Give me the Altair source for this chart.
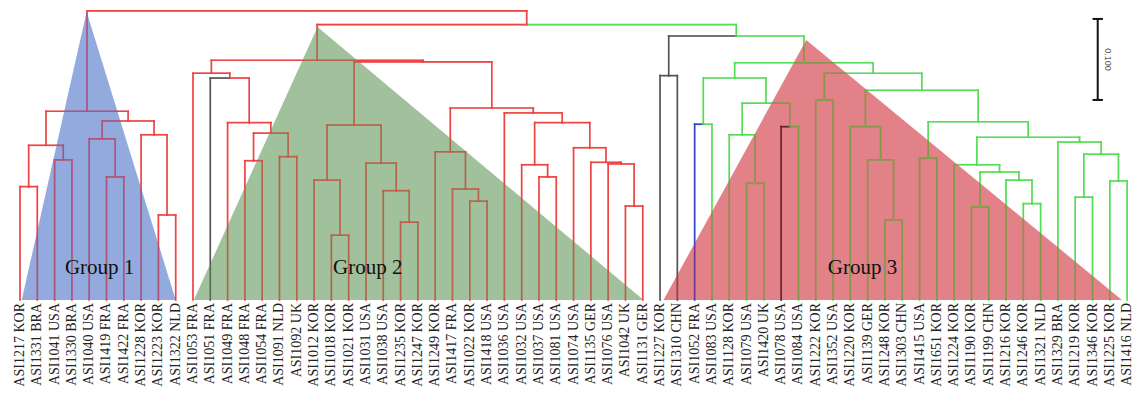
import altair as alt
import pandas as pd

# ---------------- data ----------------
leaf_labels = [
    "ASI1217 KOR", "ASI1331 BRA", "ASI1041 USA", "ASI1330 BRA", "ASI1040 USA",
    "ASI1419 FRA", "ASI1422 FRA", "ASI1228 KOR", "ASI1223 KOR", "ASI1322 NLD",
    "ASI1053 FRA", "ASI1051 FRA", "ASI1049 FRA", "ASI1048 FRA", "ASI1054 FRA",
    "ASI1091 NLD", "ASI1092 UK", "ASI1012 KOR", "ASI1018 KOR", "ASI1021 KOR",
    "ASI1031 USA", "ASI1038 USA", "ASI1235 KOR", "ASI1247 KOR", "ASI1249 KOR",
    "ASI1417 FRA", "ASI1022 KOR", "ASI1418 USA", "ASI1036 USA", "ASI1032 USA",
    "ASI1037 USA", "ASI1081 USA", "ASI1074 USA", "ASI1135 GER", "ASI1076 USA",
    "ASI1042 UK", "ASI1131 GER",
    "ASI1227 KOR", "ASI1310 CHN", "ASI1052 FRA", "ASI1083 USA", "ASI1128 KOR",
    "ASI1079 USA", "ASI1420 UK", "ASI1078 USA", "ASI1084 USA", "ASI1222 KOR",
    "ASI1352 USA", "ASI1220 KOR", "ASI1139 GER", "ASI1248 KOR", "ASI1303 CHN",
    "ASI1415 USA", "ASI1651 KOR", "ASI1224 KOR", "ASI1190 KOR", "ASI1199 CHN",
    "ASI1216 KOR", "ASI1246 KOR", "ASI1321 NLD", "ASI1329 BRA", "ASI1219 KOR",
    "ASI1346 KOR", "ASI1225 KOR", "ASI1416 NLD",
]

# merges: (node, left child, right child, merge height); ints are leaf indices
merges = [
    # group 1
    ("A", 0, 1, 0.140), ("B", 2, 3, 0.173), ("AB", "A", "B", 0.191),
    ("C", 5, 6, 0.152), ("D", 4, "C", 0.199), ("E", 8, 9, 0.105),
    ("F", 7, "E", 0.204), ("G", "D", "F", 0.221), ("G1", "AB", "G", 0.233),
    # group 2
    ("N1", 13, 14, 0.172), ("N2", 15, 16, 0.177), ("N3", "N1", "N2", 0.206),
    ("N4", 12, "N3", 0.219), ("N5", 11, "N4", 0.274), ("N6", 10, "N5", 0.280),
    ("P1", 18, 19, 0.080), ("P", 17, "P1", 0.148),
    ("Q1", 22, 23, 0.096), ("Q2", 21, "Q1", 0.135), ("Q", 20, "Q2", 0.169),
    ("Z1", "P", "Q", 0.216),
    ("R1", 26, 27, 0.122), ("R2", 25, "R1", 0.137), ("R", 24, "R2", 0.183),
    ("S1", 35, 36, 0.116), ("S2", 34, "S1", 0.168), ("S3", 33, "S2", 0.170),
    ("S4", 32, "S3", 0.188), ("T1", 30, 31, 0.152), ("T2", 29, "T1", 0.167),
    ("T3", "T2", "S4", 0.219), ("T4", 28, "T3", 0.231), ("Z2", "R", "T4", 0.237),
    ("Y", "Z1", "Z2", 0.294), ("G2", "N6", "Y", 0.296),
    # group 3
    ("U1", 37, 38, 0.277), ("V5", 39, 40, 0.217), ("V1", 42, 43, 0.144),
    ("V2", 41, "V1", 0.204), ("V3", 44, 45, 0.214), ("V4", "V2", "V3", 0.243),
    ("V6", "V5", "V4", 0.274), ("W1", 46, 47, 0.247),
    ("X1", 50, 51, 0.099), ("X2", 49, "X1", 0.173), ("X3", 48, "X2", 0.214),
    ("Z6", 52, 53, 0.175), ("Y1", 58, 59, 0.119), ("Y2", 57, "Y1", 0.148),
    ("Y3", 55, 56, 0.115), ("Y4", "Y3", "Y2", 0.158), ("Y5", 54, "Y4", 0.167),
    ("ZA", 61, 62, 0.127), ("ZB", 63, 64, 0.147), ("ZC", "ZA", "ZB", 0.180),
    ("ZD", 60, "ZC", 0.195), ("ZE", "Y5", "ZD", 0.201), ("ZF", "Z6", "ZE", 0.220),
    ("ZG", "X3", "ZF", 0.259), ("W", "W1", "ZG", 0.280),
    ("G3g", "V6", "W", 0.293), ("G3", "U1", "G3g", 0.326),
    # top
    ("G23", "G2", "G3", 0.340), ("ROOT", "G1", "G23", 0.357),
]

gray_edges = [11, 37, 38, "U1"]
blue_edges = [39]
black_edges = [44]
green_root = "G3"

# triangles (group shading)
tri_group = ["Group 1", "Group 2", "Group 3"]
tri_left = [0.1, 10.05, 37.2]
tri_right = [9.0, 36.05, 63.7]
tri_apex_x = [3.85, 17.2, 45.45]
tri_apex_h = [0.356, 0.337, 0.321]
tri_fill = ["#4a72c6", "#62985a", "#cf2e38"]
group_label_x = [4.6, 20.1, 48.7]
group_label_h = [0.040, 0.040, 0.040]

scale_bar_x = 62.3
scale_bar_top = 0.347
scale_bar_len = 0.100

line_colors = {"red": "#ee4444", "green": "#55dd55", "gray": "#555555",
               "blue": "#3344cc", "black": "#222222"}

# ---------------- tree layout ----------------
pos = {i: (float(i), 0.0) for i in range(len(leaf_labels))}
parent = {}
kids = {}
for name, a, b, h in merges:
    pos[name] = ((pos[a][0] + pos[b][0]) / 2.0, h)
    parent[a] = name
    parent[b] = name
    kids[name] = (a, b)


def subtree(n):
    out = [n]
    if n in kids:
        for k in kids[n]:
            out += subtree(k)
    return out


green_set = set(subtree(green_root))

seg_rows = []
for child, par in parent.items():
    cx, ch = pos[child]
    px, ph = pos[par]
    col = "red"
    if child in green_set:
        col = "green"
    if child in gray_edges:
        col = "gray"
    if child in blue_edges:
        col = "blue"
    if child in black_edges:
        col = "black"
    c = line_colors[col]
    seg_rows.append(dict(x=cx, y=ch, x2=cx, y2=ph, c=c))
    seg_rows.append(dict(x=cx, y=ph, x2=px, y2=ph, c=c))
segs = pd.DataFrame(seg_rows)

tri_rows = []
for g, l, r, ax, ah, f in zip(tri_group, tri_left, tri_right, tri_apex_x, tri_apex_h, tri_fill):
    tri_rows.append(dict(g=g, x=l, y=0.0, y2=0.0, f=f))
    tri_rows.append(dict(g=g, x=ax, y=ah, y2=0.0, f=f))
    tri_rows.append(dict(g=g, x=r, y=0.0, y2=0.0, f=f))
tris = pd.DataFrame(tri_rows)

leaves = pd.DataFrame({"i": list(range(len(leaf_labels))), "label": leaf_labels})
glabels = pd.DataFrame({"x": group_label_x, "y": group_label_h, "t": tri_group})

sb = pd.DataFrame([
    dict(x=scale_bar_x, y=scale_bar_top - scale_bar_len, x2=scale_bar_x, y2=scale_bar_top),
    dict(x=scale_bar_x - 0.3, y=scale_bar_top, x2=scale_bar_x + 0.3, y2=scale_bar_top),
    dict(x=scale_bar_x - 0.3, y=scale_bar_top - scale_bar_len, x2=scale_bar_x + 0.3,
         y2=scale_bar_top - scale_bar_len),
])
sbt = pd.DataFrame([dict(x=scale_bar_x + 0.6, y=scale_bar_top - scale_bar_len / 2,
                         t=f"{scale_bar_len:.3f}")])

# ---------------- scales ----------------
xs = alt.Scale(domain=[-0.694, 64.34], nice=False, zero=False)
ys = alt.Scale(domain=[-0.1148, 0.3605], nice=False, zero=False)


def X(f):
    return alt.X(f, type="quantitative", scale=xs, axis=None)


def Y(f):
    return alt.Y(f, type="quantitative", scale=ys, axis=None)


rules = alt.Chart(segs).mark_rule(strokeWidth=1.6, strokeCap="square").encode(
    x=X("x"), x2="x2", y=Y("y"), y2="y2", color=alt.Color("c:N", scale=None)
)
rules_top = alt.Chart(segs).mark_rule(strokeWidth=1.6, strokeCap="square", opacity=0.35).encode(
    x=X("x"), x2="x2", y=Y("y"), y2="y2", color=alt.Color("c:N", scale=None)
)
tri = alt.Chart(tris).mark_area(opacity=0.6, interpolate="linear").encode(
    x=X("x"), y=alt.Y("y:Q", scale=ys, axis=None, stack=None), y2="y2",
    color=alt.Color("f:N", scale=None), detail="g:N"
)
gtext = alt.Chart(glabels).mark_text(font="Liberation Serif", fontSize=21, color="#111111",
                                     align="center", baseline="middle").encode(
    x=X("x"), y=Y("y"), text="t:N"
)
ltext = alt.Chart(leaves).mark_text(font="Liberation Serif", fontSize=14, color="#222222",
                                    angle=270, align="right", baseline="middle").encode(
    x=X("i"), y=alt.value(295), text="label:N"
)
sbar = alt.Chart(sb).mark_rule(strokeWidth=2, color="#111111").encode(
    x=X("x"), x2="x2", y=Y("y"), y2="y2"
)
sbtext = alt.Chart(sbt).mark_text(font="Liberation Sans", fontSize=9, color="#555555",
                                  angle=90, align="center", baseline="middle").encode(
    x=X("x"), y=Y("y"), text="t:N"
)

chart = alt.layer(rules, tri, rules_top, gtext, ltext, sbar, sbtext).properties(
    width=1125, height=385, autosize=alt.AutoSizeParams(type="none"), padding=0
).configure_view(stroke=None)

chart.save("out.html", embed_options={"renderer": "svg", "actions": False})
